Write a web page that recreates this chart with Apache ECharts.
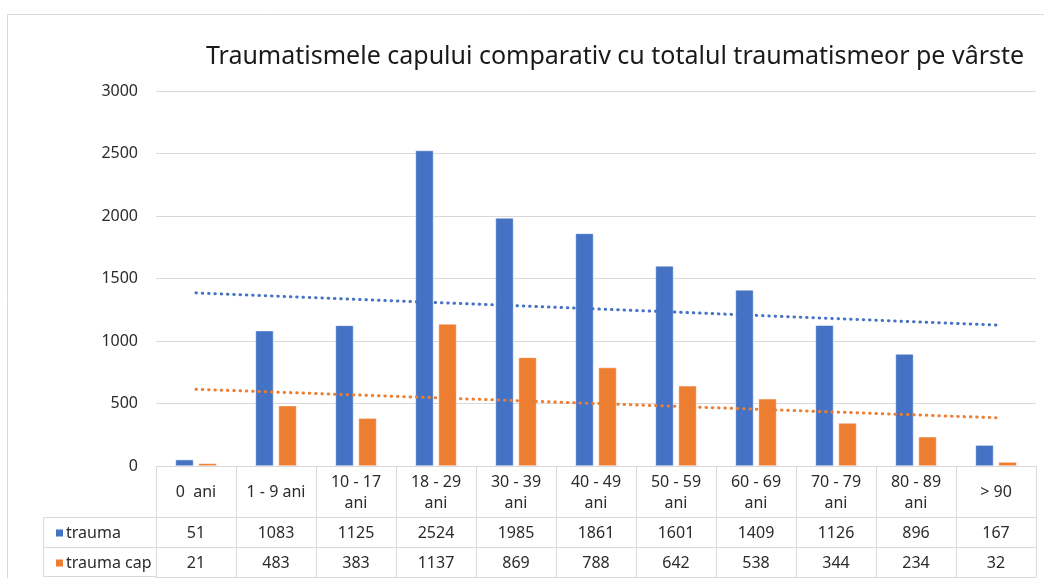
<!DOCTYPE html>
<html>
<head>
<meta charset="utf-8">
<script src="https://cdn.jsdelivr.net/npm/echarts@6/dist/echarts.min.js"></script>
<style>
  html, body { margin: 0; padding: 0; background: #fff; }
  #chart { width: 1044px; height: 578px; }
</style>
</head>
<body>
<div id="chart"></div>
<script>
const categories = ['0  ani', '1 - 9 ani', '10 - 17\nani', '18 - 29\nani', '30 - 39\nani', '40 - 49\nani', '50 - 59\nani', '60 - 69\nani', '70 - 79\nani', '80 - 89\nani', '> 90']
const trauma = [51, 1083, 1125, 2524, 1985, 1861, 1601, 1409, 1126, 896, 167]
const traumaCap = [21, 483, 383, 1137, 869, 788, 642, 538, 344, 234, 32]
// trendline ends (first and last category)
const traumaTrend = [1385, 1128]
const traumaCapTrend = [614, 386]
const yTicks = [0, 500, 1000, 1500, 2000, 2500, 3000]

const font = 'Noto Sans'
const lineColor = '#d9d9d9'
const blue = '#4472c4'
const orange = '#ed7d31'

const gridLeft = 156
const gridRight = 8
const gridTop = 91
const gridBottom = 112
const headerH = 51
const rowH = 30

const trendData = (ends) => ends.map((v, i) => [i === 0 ? 0 : categories.length - 1, v])

const chart = echarts.init(document.getElementById('chart'))

const tableAxis = (offset, tickLen, data, show, rowHeight) => ({
  type: 'category',
  data: data,
  position: 'bottom',
  offset: offset,
  axisLine: { show: true, lineStyle: { color: lineColor, width: 1 } },
  axisTick: { show: tickLen > 0, length: tickLen, lineStyle: { color: lineColor } },
  axisLabel: {
    show: show,
    interval: 0,
    margin: rowHeight / 2 + 1,
    verticalAlign: 'middle',
    color: '#2b2b2b',
    fontFamily: font,
    fontSize: 16,
    lineHeight: 21
  },
  splitLine: { show: false }
})

const W = 1044
const yRow1 = 578 - gridBottom + headerH
const yRow2 = yRow1 + rowH
const yRow3 = yRow2 + rowH

const rowLegend = (name, top) => ({
  left: 54,
  top: top,
  itemWidth: 9,
  itemHeight: 9,
  itemGap: 0,
  padding: 0,
  icon: 'rect',
  data: [name],
  selectedMode: false,
  textStyle: { fontFamily: font, fontSize: 16, color: '#2b2b2b', padding: [0, 0, 0, -3] }
})

chart.setOption({
  animation: false,
  title: {
    text: 'Traumatismele capului comparativ cu totalul traumatismeor pe vârste',
    left: 610,
    textAlign: 'center',
    top: 39,
    textStyle: { fontFamily: font, fontSize: 25, fontWeight: 'normal', color: '#1a1a1a' }
  },
  legend: [rowLegend('trauma', yRow1 + 8), rowLegend('trauma cap', yRow2 + 8)],
  grid: { left: gridLeft, right: gridRight, top: gridTop, bottom: gridBottom, containLabel: false },
  xAxis: [
    tableAxis(0, headerH, categories, true, headerH),
    tableAxis(headerH, rowH, trauma.map(String), true, rowH),
    tableAxis(headerH + rowH, rowH, traumaCap.map(String), true, rowH),
    tableAxis(headerH + 2 * rowH, 0, categories, false, rowH),
    { type: 'value', min: -0.5, max: categories.length - 0.5, show: false }
  ],
  yAxis: {
    type: 'value',
    min: 0,
    max: 3000,
    interval: 500,
    axisLine: { show: false },
    axisTick: { show: false },
    axisLabel: {
      color: '#2b2b2b', fontFamily: font, fontSize: 16, margin: 18,
      formatter: (v) => yTicks.includes(v) ? String(v) : ''
    },
    splitLine: { lineStyle: { color: lineColor, width: 1 } }
  },
  series: [
    {
      name: 'trauma', type: 'bar', data: trauma, xAxisIndex: 0,
      barWidth: 18, barGap: '28%',
      itemStyle: { color: blue, borderColor: '#fff', borderWidth: 0.5 }
    },
    {
      name: 'trauma cap', type: 'bar', data: traumaCap, xAxisIndex: 0,
      barWidth: 18, barGap: '28%',
      itemStyle: { color: orange, borderColor: '#fff', borderWidth: 0.5 }
    },
    {
      name: 'trauma trend', type: 'line', xAxisIndex: 4, data: trendData(traumaTrend),
      symbol: 'none', silent: true,
      lineStyle: { color: blue, width: 3, type: [0.5, 5.8], cap: 'round' }
    },
    {
      name: 'trauma cap trend', type: 'line', xAxisIndex: 4, data: trendData(traumaCapTrend),
      symbol: 'none', silent: true,
      lineStyle: { color: orange, width: 3, type: [0.5, 5.8], cap: 'round' }
    }
  ],
  graphic: [
    // outer chart frame
    { type: 'polyline', silent: true, shape: { points: [[7.5, 578], [7.5, 14.5], [W, 14.5]] },
      style: { stroke: '#d9d9d9', fill: null, lineWidth: 1 } },
    // left column of the data table
    { type: 'polyline', silent: true, shape: { points: [[gridLeft, yRow1 + 0.5], [43.5, yRow1 + 0.5], [43.5, yRow3 - 0.5], [gridLeft, yRow3 - 0.5]] },
      style: { stroke: lineColor, fill: null, lineWidth: 1 } },
    { type: 'line', silent: true, shape: { x1: 43.5, y1: yRow2 + 0.5, x2: gridLeft, y2: yRow2 + 0.5 },
      style: { stroke: lineColor, lineWidth: 1 } }
  ]
})
</script>
</body>
</html>
